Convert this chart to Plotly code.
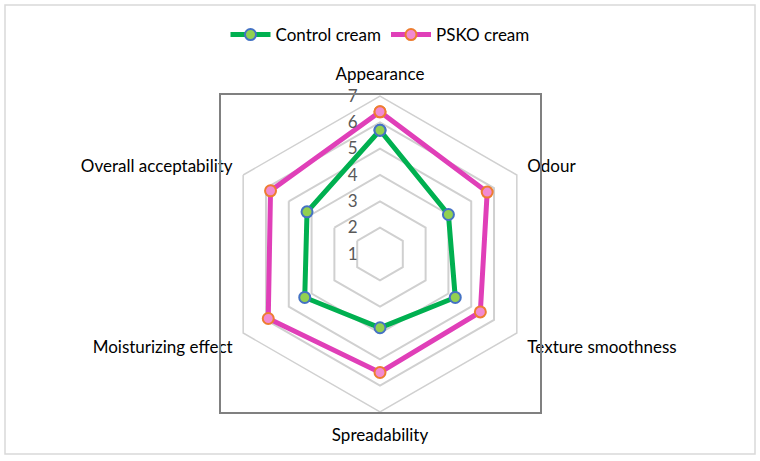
import plotly.graph_objects as go

categories = ["Appearance", "Odour", "Texture smoothness", "Spreadability",
              "Moisturizing effect", "Overall acceptability"]
control = [5.7, 4.0, 4.3, 3.8, 4.3, 4.2]
psko = [6.4, 5.7, 5.4, 5.5, 5.9, 5.8]
tick_vals = [1, 2, 3, 4, 5, 6, 7]

W, H = 760, 461

def closed(v):
    return list(v) + [v[0]]

fig = go.Figure()
fig.add_trace(go.Scatterpolar(
    r=closed(control), theta=closed(categories), name="Control cream",
    mode="lines+markers",
    line=dict(color="#00B050", width=5),
    marker=dict(size=11, color="#92D050", line=dict(color="#4472C4", width=2)),
))
fig.add_trace(go.Scatterpolar(
    r=closed(psko), theta=closed(categories), name="PSKO cream",
    mode="lines+markers",
    line=dict(color="#E03FB8", width=5),
    marker=dict(size=11, color="#F28AD2", line=dict(color="#ED7D31", width=2)),
))

cx, cy, R = 380, 254, 158
fig.update_layout(
    width=W, height=H,
    margin=dict(l=0, r=0, t=0, b=0),
    paper_bgcolor="white",
    font=dict(family="Lato, 'Open Sans', sans-serif", size=17, color="#000000"),
    polar=dict(
        gridshape="linear",
        bgcolor="rgba(0,0,0,0)",
        domain=dict(x=[(cx - R) / W, (cx + R) / W],
                    y=[(H - cy - R) / H, (H - cy + R) / H]),
        radialaxis=dict(
            range=[1, 7], tickvals=tick_vals, ticktext=[str(t) for t in tick_vals],
            angle=90, tickangle=90, showline=False,
            ticks="outside", ticklen=16, tickcolor="rgba(0,0,0,0)",
            gridcolor="#D0D0D0", gridwidth=1.5,
            tickfont=dict(size=17, color="#595959"),
            side="counterclockwise",
        ),
        angularaxis=dict(
            rotation=90, direction="clockwise",
            showgrid=False, showline=True, linecolor="#D0D0D0", linewidth=1.5,
            ticks="outside", ticklen=8, tickcolor="rgba(0,0,0,0)",
            tickfont=dict(size=17, color="#000000"),
        ),
    ),
    legend=dict(orientation="h", x=0.5, xanchor="center", y=(H - 35) / H, yanchor="middle",
                font=dict(size=17), itemwidth=40, bgcolor="rgba(0,0,0,0)"),
    shapes=[
        dict(type="rect", xref="paper", yref="paper",
             x0=5 / W, x1=755 / W, y0=(H - 454) / H, y1=(H - 5) / H,
             line=dict(color="#D9D9D9", width=1.5)),
        dict(type="rect", xref="paper", yref="paper",
             x0=220 / W, x1=541 / W, y0=(H - 413) / H, y1=(H - 94) / H,
             line=dict(color="#808080", width=2)),
    ],
)

fig.write_html("out.html")
